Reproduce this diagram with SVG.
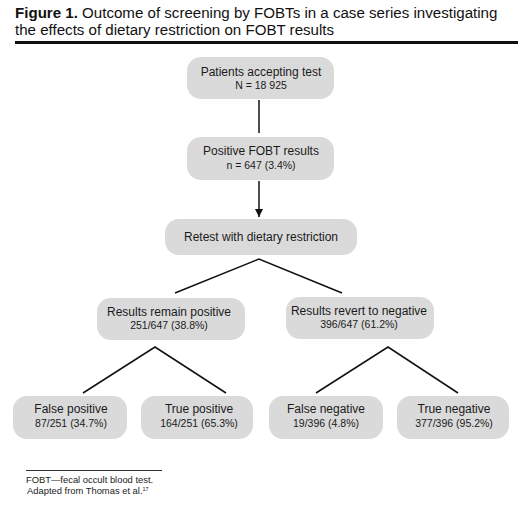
<svg xmlns="http://www.w3.org/2000/svg" width="519" height="524" viewBox="0 0 519 524">
<style>
.box{fill:#dadada;}
.t1{font-family:"Liberation Sans",Arial,sans-serif;font-size:12px;fill:#1a1a1a;text-anchor:middle;}
.t2{font-family:"Liberation Sans",Arial,sans-serif;font-size:10.5px;fill:#1a1a1a;text-anchor:middle;}
.title{font-family:"Liberation Sans",Arial,sans-serif;font-size:15.1px;fill:#111;}
.foot{font-family:"Liberation Sans",Arial,sans-serif;font-size:9.4px;fill:#222;}
.conn{stroke:#111;stroke-width:1.5;fill:none;}
</style>
<defs>
<marker id="arr" viewBox="0 0 8 10" refX="8" refY="5" markerWidth="8" markerHeight="10" markerUnits="userSpaceOnUse" orient="auto">
<path d="M0,1 L8,5 L0,9 Z" fill="#111"/>
</marker>
</defs>
<rect width="519" height="524" fill="#fff"/>
<g id="title">
<text class="title" x="15" y="18"><tspan font-weight="bold">Figure 1.</tspan> Outcome of screening by FOBTs in a case series investigating</text>
<text class="title" x="15" y="35">the effects of dietary restriction on FOBT results</text>
<rect x="15" y="41" width="503" height="3" fill="#111"/>
</g>
<g id="connectors">
<line class="conn" x1="259" y1="100" x2="259" y2="133"/>
<line class="conn" x1="259" y1="181" x2="259" y2="217" marker-end="url(#arr)"/>
<polyline class="conn" points="175,293 259,259 342,293"/>
<polyline class="conn" points="83,393 155,347 226,393"/>
<polyline class="conn" points="316,393 388,347 458,393"/>
</g>
<g id="n-patients">
<rect class="box" x="187" y="57" width="147" height="42" rx="14"/>
<text class="t1" x="261" y="76">Patients accepting test</text>
<text class="t2" x="261" y="89">N = 18 925</text>
</g>
<g id="n-positive">
<rect class="box" x="187" y="137" width="147" height="43" rx="14"/>
<text class="t1" x="261" y="155">Positive FOBT results</text>
<text class="t2" x="261" y="169">n = 647 (3.4%)</text>
</g>
<g id="n-retest">
<rect class="box" x="165" y="219" width="192" height="36" rx="14"/>
<text class="t1" x="261" y="241">Retest with dietary restriction</text>
</g>
<g id="n-remain">
<rect class="box" x="97" y="298" width="148" height="42" rx="14"/>
<text class="t1" x="169" y="316">Results remain positive</text>
<text class="t2" x="169" y="329">251/647 (38.8%)</text>
</g>
<g id="n-revert">
<rect class="box" x="286" y="297" width="148" height="42" rx="14"/>
<text class="t1" x="359" y="315">Results revert to negative</text>
<text class="t2" x="359" y="328">396/647 (61.2%)</text>
</g>
<g id="n-fp">
<rect class="box" x="13" y="396" width="114" height="43" rx="14"/>
<text class="t1" x="71" y="413">False positive</text>
<text class="t2" x="71" y="427">87/251 (34.7%)</text>
</g>
<g id="n-tp">
<rect class="box" x="141" y="396" width="112" height="43" rx="14"/>
<text class="t1" x="199" y="413">True positive</text>
<text class="t2" x="199" y="427">164/251 (65.3%)</text>
</g>
<g id="n-fn">
<rect class="box" x="269" y="396" width="114" height="43" rx="14"/>
<text class="t1" x="326" y="413">False negative</text>
<text class="t2" x="326" y="427">19/396 (4.8%)</text>
</g>
<g id="n-tn">
<rect class="box" x="397" y="396" width="112" height="43" rx="14"/>
<text class="t1" x="454" y="413">True negative</text>
<text class="t2" x="454" y="427">377/396 (95.2%)</text>
</g>
<g id="footnote">
<rect x="26" y="470" width="136" height="1" fill="#333"/>
<text class="foot" x="26" y="483">FOBT—fecal occult blood test.</text>
<text class="foot" x="27" y="494">Adapted from Thomas et al.<tspan font-size="5.5" dy="-3.5">17</tspan></text>
</g>
</svg>
